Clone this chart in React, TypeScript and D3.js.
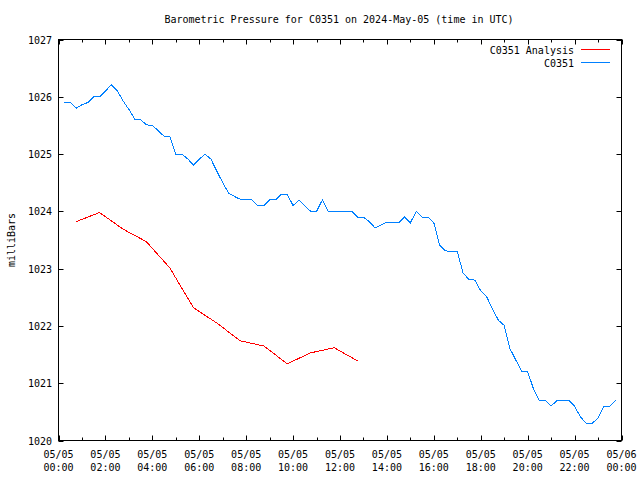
import React from "react";
import * as d3 from "d3";

const title = "Barometric Pressure for C0351 on 2024-May-05 (time in UTC)";
const yLabel = "milliBars";
const seriesNames = ["C0351 Analysis", "C0351"];
const colors = ["#ff0000", "#0080ff"];

// hours after 2024-05-05 00:00 UTC
const analysisHours = [0.75, 1.75, 2.75, 3.75, 4.75, 5.75, 6.75, 7.75, 8.75, 9.75, 10.75, 11.75, 12.75];
const analysisValues = [1023.82, 1023.98, 1023.69, 1023.47, 1023.01, 1022.32, 1022.05, 1021.74, 1021.65, 1021.34, 1021.53, 1021.62, 1021.39];

// observations every 15 minutes from 00:15 to 23:45
const obsStartHour = 0.25;
const obsStepHour = 0.25;
const obsValues = [
  1025.9, 1025.9, 1025.8, 1025.86, 1025.9, 1026.0, 1026.0, 1026.1,
  1026.21, 1026.11, 1025.93, 1025.78, 1025.61, 1025.6, 1025.51, 1025.5,
  1025.41, 1025.31, 1025.3, 1025.0, 1025.0, 1024.92, 1024.81, 1024.91,
  1025.0, 1024.91, 1024.7, 1024.5, 1024.32, 1024.26, 1024.21, 1024.2,
  1024.2, 1024.1, 1024.1, 1024.2, 1024.2, 1024.3, 1024.3, 1024.1,
  1024.2, 1024.1, 1024.0, 1024.0, 1024.2, 1024.0, 1024.0, 1024.0,
  1024.0, 1024.0, 1023.9, 1023.9, 1023.82, 1023.71, 1023.76, 1023.81,
  1023.8, 1023.8, 1023.9, 1023.8, 1024.0, 1023.9, 1023.9, 1023.8,
  1023.41, 1023.31, 1023.3, 1023.3, 1022.92, 1022.81, 1022.8, 1022.61,
  1022.51, 1022.3, 1022.1, 1022.01, 1021.6, 1021.4, 1021.21, 1021.2,
  1020.9, 1020.7, 1020.7, 1020.6, 1020.7, 1020.7, 1020.7, 1020.6,
  1020.41, 1020.3, 1020.3, 1020.39, 1020.6, 1020.6, 1020.7,
];

const yTicks = [1020, 1021, 1022, 1023, 1024, 1025, 1026, 1027];
const xTickHours = [0, 2, 4, 6, 8, 10, 12, 14, 16, 18, 20, 22, 24];
const xTickDates = ["05/05", "05/05", "05/05", "05/05", "05/05", "05/05", "05/05", "05/05", "05/05", "05/05", "05/05", "05/05", "05/06"];
const xTickTimes = ["00:00", "02:00", "04:00", "06:00", "08:00", "10:00", "12:00", "14:00", "16:00", "18:00", "20:00", "22:00", "00:00"];

const W = 640, H = 480;
const L = 58.5, R = 621.5, T = 39.5, B = 440.5;
const font = "'DejaVu Sans Mono', monospace";

export default function App() {
  const x = d3.scaleLinear().domain([0, 24]).range([L, R]);
  const y = d3.scaleLinear().domain([1020, 1027]).range([B, T]);
  const line = d3.line<[number, number]>().x((d) => x(d[0])).y((d) => y(d[1]));
  const analysis: [number, number][] = analysisHours.map((h, i) => [h, analysisValues[i]]);
  const obs: [number, number][] = obsValues.map((v, i) => [obsStartHour + i * obsStepHour, v]);
  const minorHours = d3.range(0, 25, 1).filter((h) => h % 2 === 1);

  return (
    <svg width={W} height={H} style={{ position: "absolute", left: 0, top: 0, background: "#fff" }}
      fontFamily={font} fontSize={10}>
      <rect x={0} y={0} width={W} height={H} fill="#fff" />
      <text x={339} y={23} textAnchor="middle">{title}</text>
      <text transform={`translate(15,${(T + B) / 2}) rotate(-90)`} textAnchor="middle">{yLabel}</text>

      {/* y ticks */}
      {yTicks.map((t) => (
        <g key={t}>
          <line x1={L} x2={L + 5} y1={Math.round(y(t)) + 0.5} y2={Math.round(y(t)) + 0.5} stroke="#000" />
          <line x1={R} x2={R - 5} y1={Math.round(y(t)) + 0.5} y2={Math.round(y(t)) + 0.5} stroke="#000" />
          <text x={52} y={y(t) + 4} textAnchor="end">{t}</text>
        </g>
      ))}
      {/* x ticks */}
      {xTickHours.map((h, i) => (
        <g key={h}>
          <line x1={Math.round(x(h)) + 0.5} x2={Math.round(x(h)) + 0.5} y1={B} y2={B - 5} stroke="#000" />
          <line x1={Math.round(x(h)) + 0.5} x2={Math.round(x(h)) + 0.5} y1={T} y2={T + 5} stroke="#000" />
          <text x={x(h)} y={458} textAnchor="middle">{xTickDates[i]}</text>
          <text x={x(h)} y={471} textAnchor="middle">{xTickTimes[i]}</text>
        </g>
      ))}
      {minorHours.map((h) => (
        <g key={"m" + h}>
          <line x1={Math.round(x(h)) + 0.5} x2={Math.round(x(h)) + 0.5} y1={B} y2={B - 3} stroke="#000" />
          <line x1={Math.round(x(h)) + 0.5} x2={Math.round(x(h)) + 0.5} y1={T} y2={T + 3} stroke="#000" />
        </g>
      ))}

      <path d={line(analysis) ?? ""} fill="none" stroke={colors[0]} strokeWidth={1} shapeRendering="crispEdges" />
      <path d={line(obs) ?? ""} fill="none" stroke={colors[1]} strokeWidth={1} shapeRendering="crispEdges" />

      {/* legend */}
      {seriesNames.map((n, i) => (
        <g key={n}>
          <text x={574} y={53.5 + i * 13} textAnchor="end">{n}</text>
          <line x1={581} x2={610} y1={49.5 + i * 13} y2={49.5 + i * 13} stroke={colors[i]} />
        </g>
      ))}

      <rect x={L} y={T} width={R - L} height={B - T} fill="none" stroke="#000" />
    </svg>
  );
}
